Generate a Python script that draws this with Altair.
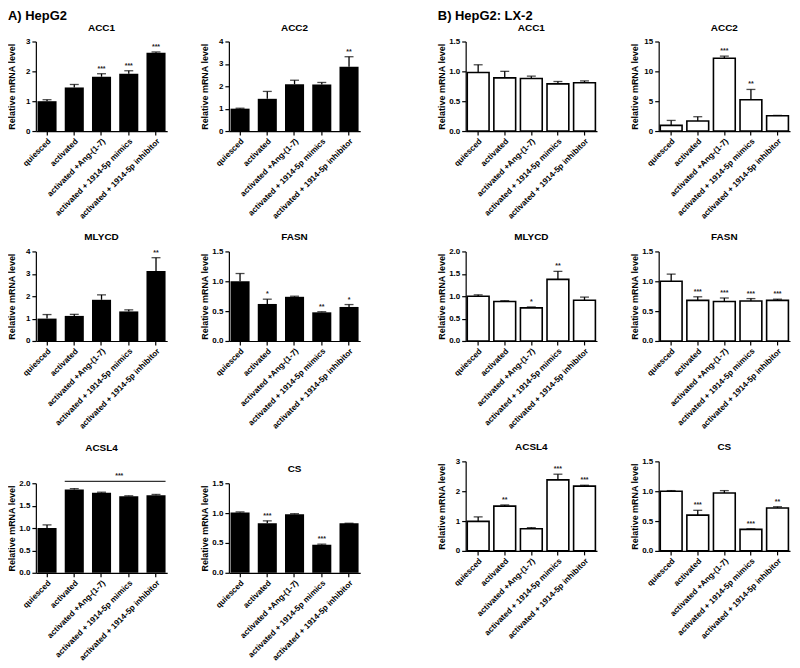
import altair as alt
import pandas as pd

FONT = "Liberation Sans"
GROUPS = ["quiesced", "activated", "activated +Ang-(1-7)",
          "activated + 1914-5p mimics", "activated + 1914-5p inhibitor"]

# ---- A) HepG2 ----
a_acc1_mean = [1.0, 1.46, 1.82, 1.92, 2.62]
a_acc1_err = [0.05, 0.10, 0.10, 0.10, 0.03]
a_acc1_sig = ["", "", "***", "***", "***"]

a_acc2_mean = [1.0, 1.44, 2.09, 2.08, 2.87]
a_acc2_err = [0.02, 0.33, 0.18, 0.09, 0.45]
a_acc2_sig = ["", "", "", "", "**"]

a_mlycd_mean = [1.0, 1.12, 1.84, 1.32, 3.13]
a_mlycd_err = [0.18, 0.07, 0.22, 0.07, 0.59]
a_mlycd_sig = ["", "", "", "", "**"]

a_fasn_mean = [1.0, 0.62, 0.74, 0.48, 0.57]
a_fasn_err = [0.13, 0.08, 0.01, 0.01, 0.04]
a_fasn_sig = ["", "*", "", "**", "*"]

a_acsl4_mean = [1.0, 1.86, 1.79, 1.71, 1.73]
a_acsl4_err = [0.07, 0.02, 0.01, 0.01, 0.02]
a_acsl4_sig = ["", "", "", "", ""]
a_acsl4_bracket_from = ["activated"]
a_acsl4_bracket_to = ["activated + 1914-5p inhibitor"]
a_acsl4_bracket_mid = ["activated + 1914-5p mimics"]
a_acsl4_bracket_level = [2.04]
a_acsl4_bracket_label = ["***"]

a_cs_mean = [1.01, 0.83, 0.98, 0.47, 0.83]
a_cs_err = [0.01, 0.04, 0.01, 0.01, 0.0]
a_cs_sig = ["", "***", "", "***", ""]

# ---- B) HepG2: LX-2 ----
b_acc1_mean = [0.98, 0.89, 0.88, 0.79, 0.81]
b_acc1_err = [0.13, 0.11, 0.04, 0.04, 0.03]
b_acc1_sig = ["", "", "", "", ""]

b_acc2_mean = [0.95, 1.67, 12.2, 5.24, 2.57]
b_acc2_err = [0.83, 0.73, 0.35, 1.73, 0.05]
b_acc2_sig = ["", "", "***", "**", ""]

b_mlycd_mean = [1.0, 0.88, 0.74, 1.375, 0.91]
b_mlycd_err = [0.03, 0.02, 0.02, 0.18, 0.07]
b_mlycd_sig = ["", "", "*", "**", ""]

b_fasn_mean = [1.0, 0.68, 0.66, 0.67, 0.68]
b_fasn_err = [0.12, 0.06, 0.06, 0.04, 0.02]
b_fasn_sig = ["", "***", "***", "***", "***"]

b_acsl4_mean = [0.99, 1.5, 0.74, 2.38, 2.17]
b_acsl4_err = [0.15, 0.04, 0.04, 0.19, 0.03]
b_acsl4_sig = ["", "**", "", "***", "***"]

b_cs_mean = [1.0, 0.6, 0.97, 0.36, 0.72]
b_cs_err = [0.01, 0.08, 0.04, 0.01, 0.02]
b_cs_sig = ["", "***", "", "***", "**"]

W, H = 132, 90

XAXIS = alt.Axis(labelAngle=-45, labelFontSize=8.2, labelPadding=2,
                 labelLimit=0, tickSize=4, title=None)


def xenc(field, pad, band=None):
    kw = {}
    if band is not None:
        kw["bandPosition"] = band
    return alt.X(field, sort=GROUPS, title=None,
                 scale=alt.Scale(domain=GROUPS, paddingInner=pad, paddingOuter=0.06),
                 axis=XAXIS, **kw)


def panel(name, mean, err, sig, ymax, ticks, fmt, filled, bracket=None):
    df = pd.DataFrame({"group": GROUPS, "mean": mean, "err": err, "sig": sig})
    df["top"] = df["mean"] + df["err"]
    pad = 0.3 if filled else 0.18
    ysc = alt.Scale(domain=[0, ymax], nice=False, zero=True)
    yaxis = alt.Axis(values=ticks, format=fmt, title="Relative mRNA level",
                     labelFontSize=8, titleFontSize=9, tickSize=4,
                     minExtent=17, maxExtent=17, titlePadding=2)

    def yenc(field):
        return alt.Y(field, scale=ysc, axis=yaxis, title="Relative mRNA level")

    base = alt.Chart(df)
    if filled:
        bars = base.mark_bar(color="black")
    else:
        bars = base.mark_bar(fill="white", stroke="black", strokeWidth=1.6)
    bars = bars.encode(x=xenc("group:N", pad), y=yenc("mean:Q"))
    errs = base.mark_rule(color="black", strokeWidth=1.3).encode(
        x=xenc("group:N", pad), y=yenc("mean:Q"), y2="top:Q")
    caps = base.mark_tick(color="black", thickness=1.3, size=9).encode(
        x=xenc("group:N", pad), y=yenc("top:Q"))
    stars = base.mark_text(baseline="bottom", dy=-2, fontSize=7, font=FONT,
                           fontWeight="bold", color="#222222").encode(
        x=xenc("group:N", pad), y=yenc("top:Q"), text="sig:N")
    layers = [bars, errs, caps, stars]
    toff = 5
    if bracket is not None:
        bdf = pd.DataFrame({"from": bracket[0], "to": bracket[1], "mid": bracket[2],
                            "level": bracket[3], "label": bracket[4]})
        brule = alt.Chart(bdf).mark_rule(color="#333333", strokeWidth=1.3).encode(
            x=xenc("from:N", pad, 0),
            x2=alt.X2("to:N", bandPosition=1),
            y=yenc("level:Q"))
        btext = alt.Chart(bdf).mark_text(baseline="bottom", dy=-2, fontSize=7, font=FONT,
                                         fontWeight="bold", color="#222222").encode(
            x=xenc("mid:N", pad, 0), y=yenc("level:Q"), text="label:N")
        layers += [brule, btext]
        toff = 20
    return alt.layer(*layers).properties(
        width=W, height=H,
        title=alt.TitleParams(name, fontSize=10, font=FONT, fontWeight="bold",
                              offset=toff, color="black"))


i3 = [0, 1, 2, 3]
i4 = [0, 1, 2, 3, 4]
h15 = [0, 0.5, 1.0, 1.5]
h20 = [0, 0.5, 1.0, 1.5, 2.0]

pa = [
    panel("ACC1", a_acc1_mean, a_acc1_err, a_acc1_sig, 3, i3, "d", True),
    panel("ACC2", a_acc2_mean, a_acc2_err, a_acc2_sig, 4, i4, "d", True),
    panel("MLYCD", a_mlycd_mean, a_mlycd_err, a_mlycd_sig, 4, i4, "d", True),
    panel("FASN", a_fasn_mean, a_fasn_err, a_fasn_sig, 1.5, h15, ".1f", True),
    panel("ACSL4", a_acsl4_mean, a_acsl4_err, a_acsl4_sig, 2.0, h20, ".1f", True,
          bracket=(a_acsl4_bracket_from, a_acsl4_bracket_to, a_acsl4_bracket_mid,
                   a_acsl4_bracket_level, a_acsl4_bracket_label)),
    panel("CS", a_cs_mean, a_cs_err, a_cs_sig, 1.5, h15, ".1f", True),
]
pb = [
    panel("ACC1", b_acc1_mean, b_acc1_err, b_acc1_sig, 1.5, h15, ".1f", False),
    panel("ACC2", b_acc2_mean, b_acc2_err, b_acc2_sig, 15, [0, 5, 10, 15], "d", False),
    panel("MLYCD", b_mlycd_mean, b_mlycd_err, b_mlycd_sig, 2.0, h20, ".1f", False),
    panel("FASN", b_fasn_mean, b_fasn_err, b_fasn_sig, 1.5, h15, ".1f", False),
    panel("ACSL4", b_acsl4_mean, b_acsl4_err, b_acsl4_sig, 3, i3, "d", False),
    panel("CS", b_cs_mean, b_cs_err, b_cs_sig, 1.5, h15, ".1f", False),
]


def group(panels, title):
    rows = [alt.hconcat(panels[i], panels[i + 1], spacing=34) for i in (0, 2, 4)]
    return alt.vconcat(*rows, spacing=12).properties(
        title=alt.TitleParams(title, anchor="start", fontSize=13, font=FONT,
                              fontWeight="bold", color="black", offset=0))


chart = alt.hconcat(group(pa, "A)  HepG2"), group(pb, "B)  HepG2: LX-2"), spacing=78).properties(
    padding={"left": 0, "top": 0, "right": 2, "bottom": 0}
).configure_view(stroke=None).configure_axis(
    domainColor="black", tickColor="black", labelColor="black", titleColor="black",
    labelFont=FONT, titleFont=FONT, labelFontWeight="bold", titleFontWeight="bold",
    grid=False, domainWidth=1.2, tickWidth=1.2
)

chart.save("out.html", embed_options={"renderer": "svg", "actions": False})
